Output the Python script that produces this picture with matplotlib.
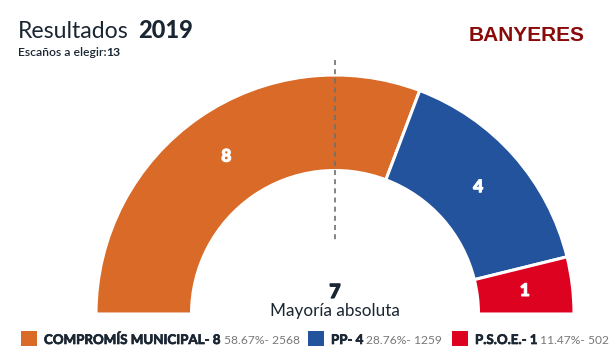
import math
import matplotlib
matplotlib.use("Agg")
import matplotlib.pyplot as plt
from matplotlib.patches import Wedge, Rectangle
import matplotlib.patheffects as pe

# ---- data ----
parties = ["COMPROMÍS MUNICIPAL", "PP", "P.S.O.E."]
seats = [8, 4, 1]
pcts = ["58.67%", "28.76%", "11.47%"]
votes = [2568, 1259, 502]
colors = ["#D96A27", "#22539C", "#DD0220"]
total_seats = 13
majority = 7
year = "2019"
town = "BANYERES"

W, H = 614, 357
fig = plt.figure(figsize=(W / 100, H / 100), dpi=100)
ax = fig.add_axes([0, 0, 1, 1])
ax.set_xlim(0, W)
ax.set_ylim(0, H)
ax.axis("off")
renderer = fig.canvas.get_renderer()

def Y(py):
    return H - py

def width_px(t):
    return t.get_window_extent(renderer=renderer).width

FONT = "Lato"
DARK = "#1b2633"
cx, cy = 335, Y(314)
r_out, r_in = 239, 143.5

# hemicycle
start = 180.0
for s, c in zip(seats, colors):
    span = 180.0 * s / total_seats
    t1, t2 = start - span, start
    ax.add_patch(Wedge((cx, cy), r_out, t1, t2, width=r_out - r_in,
                       facecolor=c, edgecolor="white", linewidth=2.2))
    mid = math.radians((t1 + t2) / 2)
    rm = (r_out + r_in) / 2
    ax.text(cx + rm * math.cos(mid), cy + rm * math.sin(mid), str(s),
            color="white", fontsize=12.5, fontweight="black", family=FONT,
            ha="center", va="center",
            path_effects=[pe.withStroke(linewidth=0.8, foreground="white")])
    start = t1

# majority dashed line
ax.plot([cx, cx], [Y(60), Y(243)], color="#707070", lw=1.2,
        ls=(0, (3, 2.5)), zorder=5)

ax.text(cx, Y(298), str(majority), fontsize=14, fontweight="black",
        family=FONT, color=DARK, ha="center", va="baseline",
        path_effects=[pe.withStroke(linewidth=0.9, foreground=DARK)])
ax.text(cx, Y(316), "Mayoría absoluta", fontsize=12.3, family=FONT,
        color=DARK, ha="center", va="baseline")

# titles
ax.text(18, Y(38), "Resultados", fontsize=16.6, family=FONT,
        color=DARK, ha="left", va="baseline")
ax.text(138, Y(38), year, fontsize=17, fontweight="black", family=FONT,
        color=DARK, ha="left", va="baseline")
t = ax.text(18, Y(56), "Escaños a elegir:", fontsize=8.7, family=FONT,
            fontweight="semibold", color=DARK, ha="left", va="baseline")
ax.text(18 + width_px(t), Y(56), str(total_seats), fontsize=8.7,
        family=FONT, fontweight="bold", color=DARK, ha="left",
        va="baseline")
ax.text(585, Y(41), town, fontsize=15, fontweight="bold",
        family="Liberation Sans", color="#8A0A0A", ha="right",
        va="baseline")

# legend
sq_x = [21, 308, 452]
x_name_target = 176.0   # width of first legend name in the reference
x_val_target = 76.0     # width of first legend value in the reference
probe = ax.text(0, 0, f"{parties[0]}- {seats[0]}", fontsize=10,
                fontweight="bold", family=FONT)
name_fs = 10 * x_name_target / width_px(probe)
probe.remove()
probe = ax.text(0, 0, f"{pcts[0]}- {votes[0]}", fontsize=10, family=FONT)
val_fs = 10 * x_val_target / width_px(probe)
probe.remove()

for i in range(3):
    ax.add_patch(Rectangle((sq_x[i], Y(346)), 16, 15, facecolor=colors[i],
                           edgecolor="none"))
    x = sq_x[i] + 23
    tn = ax.text(x, Y(344), f"{parties[i]}- {seats[i]}", fontsize=name_fs,
                 fontweight="bold", family=FONT, color=DARK,
                 ha="left", va="baseline",
                 path_effects=[pe.withStroke(linewidth=0.5, foreground=DARK)])
    x += width_px(tn) + 3
    ax.text(x, Y(344), f"{pcts[i]}- {votes[i]}", fontsize=val_fs,
            family=FONT, color="#777777", ha="left", va="baseline")

fig.savefig("out.png", dpi=100, facecolor="white")
